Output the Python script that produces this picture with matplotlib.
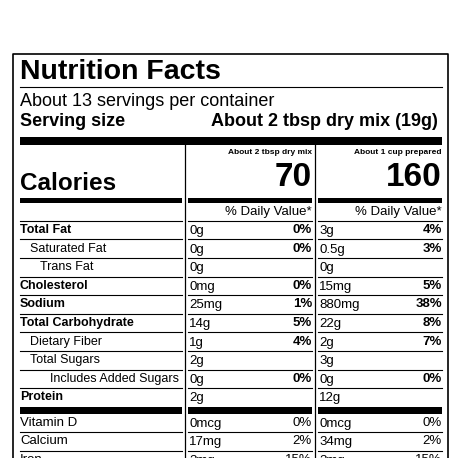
import matplotlib
matplotlib.use("Agg")
import matplotlib.pyplot as plt

nutrients = ["Total Fat", "Saturated Fat", "Trans Fat", "Cholesterol", "Sodium",
             "Total Carbohydrate", "Dietary Fiber", "Total Sugars", "Includes Added Sugars", "Protein"]
indent = [0, 1, 2, 0, 0, 0, 1, 1, 3, 0]
bold = [True, False, False, True, True, True, False, False, False, True]
amt_dry = ["0g", "0g", "0g", "0mg", "25mg", "14g", "1g", "2g", "0g", "2g"]
dv_dry = ["0%", "0%", "", "0%", "1%", "5%", "4%", "", "0%", ""]
amt_prep = ["3g", "0.5g", "0g", "15mg", "880mg", "22g", "2g", "3g", "0g", "12g"]
dv_prep = ["4%", "3%", "", "5%", "38%", "8%", "7%", "", "0%", ""]
vitamins = ["Vitamin D", "Calcium", "Iron"]
vit_amt_dry = ["0mcg", "17mg", "3mg"]
vit_dv_dry = ["0%", "2%", "15%"]
vit_amt_prep = ["0mcg", "34mg", "3mg"]
vit_dv_prep = ["0%", "2%", "15%"]
cal_dry, cal_prep = "70", "160"

plt.rcParams['font.family'] = ['Liberation Sans', 'DejaVu Sans']
fig = plt.figure(figsize=(4.58, 4.58), dpi=100)
ax = fig.add_axes([0, 0, 1, 1])
ax.set_xlim(0, 458); ax.set_ylim(458, 0); ax.axis('off')

ax.plot([13, 13, 448, 448], [470, 54, 54, 470], color='black', lw=1.2)
L, R = 20, 442
c1a, c1b, c2a, c2b = 188, 312, 318, 442
ax.text(L, 72, "Nutrition Facts", fontsize=20.5, fontweight='bold', va='center')
ax.plot([L, R], [87, 87], color='black', lw=0.8)
ax.text(L, 101, "About 13 servings per container", fontsize=13, va='center')
ax.text(L, 122, "Serving size", fontsize=13, fontweight='bold', va='center')
ax.text(R - 4, 122, "About 2 tbsp dry mix (19g)", fontsize=13, fontweight='bold', va='center', ha='right')
ax.fill_between([L, R], 137, 145, color='black', lw=0)
ax.plot([185, 185], [145, 470], color='black', lw=0.9)
ax.plot([315, 315], [145, 470], color='black', lw=0.9)
ax.text(c1b, 153, "About 2 tbsp dry mix", fontsize=6, fontweight='bold', ha='right', va='center')
ax.text(c2b, 153, "About 1 cup prepared", fontsize=6, fontweight='bold', ha='right', va='center')
ax.text(c1b, 178, cal_dry, fontsize=24, fontweight='bold', ha='right', va='center')
ax.text(c2b, 178, cal_prep, fontsize=24, fontweight='bold', ha='right', va='center')
ax.text(L, 184, "Calories", fontsize=17.5, fontweight='bold', va='center')
for a, b in [(L, 182), (c1a, c1b), (c2a, c2b)]:
    ax.fill_between([a, b], 198, 203, color='black', lw=0)
    ax.plot([a, b], [221, 221], color='black', lw=0.8)
ax.text(c1b, 212, "% Daily Value*", fontsize=9.5, ha='right', va='center')
ax.text(c2b, 212, "% Daily Value*", fontsize=9.5, ha='right', va='center')

y0, dy = 230, 18.6
for i, n in enumerate(nutrients):
    y = y0 + i * dy
    ax.text(L + indent[i] * 10, y, n, fontsize=9,
            fontweight='bold' if bold[i] else 'normal', va='center')
    for xa, xb, a_, d_ in [(c1a, c1b, amt_dry[i], dv_dry[i]), (c2a, c2b, amt_prep[i], dv_prep[i])]:
        ax.text(xa + 1, y + 1, a_, fontsize=9.5, va='center')
        if d_:
            ax.text(xb, y, d_, fontsize=9.5, fontweight='bold', ha='right', va='center')
    if i < len(nutrients) - 1:
        ly = y + dy / 2
        for a, b in [(L, 182), (c1a, c1b), (c2a, c2b)]:
            ax.plot([a, b], [ly, ly], color='black', lw=0.8)
for a, b in [(L, 182), (c1a, c1b), (c2a, c2b)]:
    ax.fill_between([a, b], 407, 414, color='black', lw=0)
vy0 = 423
for j, v in enumerate(vitamins):
    y = vy0 + j * 18.5
    ax.text(L, y, v, fontsize=9.5, va='center')
    for xa, xb, a_, d_ in [(c1a, c1b, vit_amt_dry[j], vit_dv_dry[j]), (c2a, c2b, vit_amt_prep[j], vit_dv_prep[j])]:
        ax.text(xa + 1, y + 1, a_, fontsize=9.5, va='center')
        ax.text(xb, y, d_, fontsize=9.5, ha='right', va='center')
    if j < 2:
        for a, b in [(L, 182), (c1a, c1b), (c2a, c2b)]:
            ax.plot([a, b], [y + 9.2, y + 9.2], color='black', lw=0.8)
fig.savefig("out.png", dpi=100)
